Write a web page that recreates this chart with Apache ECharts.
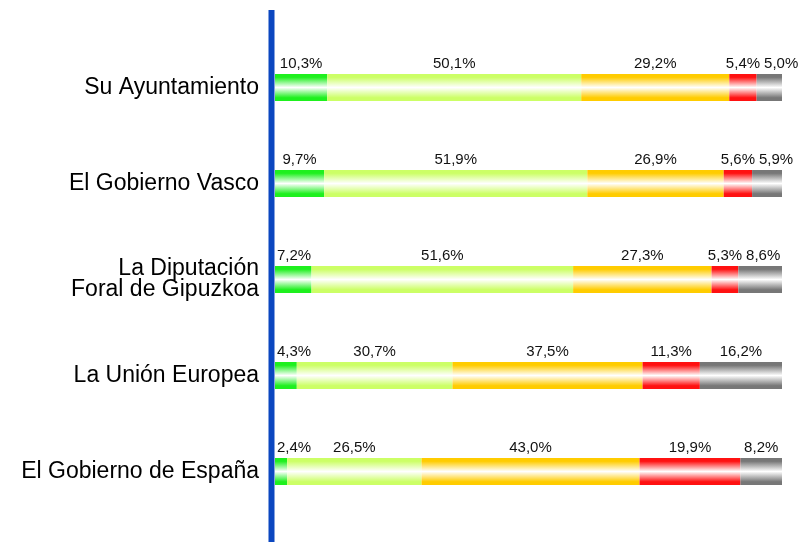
<!DOCTYPE html>
<html>
<head>
<meta charset="utf-8">
<script src="https://cdn.jsdelivr.net/npm/echarts@6/dist/echarts.min.js"></script>
<style>
  html, body { margin: 0; padding: 0; background: #fff; }
  #chart { width: 800px; height: 542px; }
</style>
</head>
<body>
<div id="chart"></div>
<script>
var categories = ['Su Ayuntamiento', 'El Gobierno Vasco', 'La Diputación\nForal de Gipuzkoa', 'La Unión Europea', 'El Gobierno de España'];
var seriesNames = ['Mucha', 'Bastante', 'Poca', 'Ninguna', 'Ns/Nc'];
var mucha    = [10.3, 9.7, 7.2, 4.3, 2.4];
var bastante = [50.1, 51.9, 51.6, 30.7, 26.5];
var poca     = [29.2, 26.9, 27.3, 37.5, 43.0];
var ninguna  = [5.4, 5.6, 5.3, 11.3, 19.9];
var nsnc     = [5.0, 5.9, 8.6, 16.2, 8.2];
var seriesData = [mucha, bastante, poca, ninguna, nsnc];
var colors = ['#1ef01e', '#ccff66', '#ffcc00', '#ff1111', '#777777'];

var gridLeft = 275, gridRight = 18, chartWidth = 800;
var pxPerUnit = (chartWidth - gridLeft - gridRight) / 100;
var labelFont = '15px "Liberation Sans", Arial, sans-serif';

function fmt(v) {
    return v.toFixed(1).replace('.', ',') + '%';
}

// keep value labels of a row from overlapping each other
var ctx = document.createElement('canvas').getContext('2d');
ctx.font = labelFont;
var shifts = seriesData.map(function () { return []; });
categories.forEach(function (c, row) {
    var cum = 0, items = [];
    seriesData.forEach(function (arr, s) {
        var v = arr[row];
        var center = gridLeft + (cum + v / 2) * pxPerUnit;
        var w = ctx.measureText(fmt(v)).width;
        items.push({s: s, center: center, w: w, left: center - w / 2});
        cum += v;
    });
    var gap = 4, prevRight = gridLeft + 2;
    items.forEach(function (item) {
        if (item.left < prevRight) item.left = prevRight;
        prevRight = item.left + item.w + gap;
    });
    var maxRight = chartWidth - 1;
    for (var i = items.length - 1; i >= 0; i--) {
        var item = items[i];
        if (item.left + item.w > maxRight) item.left = maxRight - item.w;
        maxRight = item.left - gap;
    }
    items.forEach(function (item) {
        shifts[item.s][row] = item.left + item.w / 2 - item.center;
    });
});

var myChart = echarts.init(document.getElementById('chart'));
var option = {
    animation: false,
    grid: {left: gridLeft, right: gridRight, top: 39.5, bottom: 22.5},
    xAxis: {
        type: 'value', min: 0, max: 100,
        show: false
    },
    yAxis: {
        type: 'category',
        data: categories,
        inverse: true,
        axisLine: {show: false},
        axisTick: {show: false},
        axisLabel: {
            margin: 16,
            fontSize: 23,
            lineHeight: 21,
            color: '#000',
            fontFamily: '"Liberation Sans", Arial, sans-serif'
        }
    },
    graphic: [{
        type: 'rect',
        shape: {x: 268.5, y: 10, width: 6, height: 532},
        style: {fill: '#0b47c0'}
    }],
    series: seriesData.map(function (arr, s) {
        var c = colors[s];
        return {
            name: seriesNames[s],
            type: 'bar',
            stack: 'total',
            barWidth: 27,
            data: arr,
            itemStyle: {
                color: new echarts.graphic.LinearGradient(0, 0, 0, 1, [
                    {offset: 0, color: c},
                    {offset: 0.12, color: c},
                    {offset: 0.5, color: '#ffffff'},
                    {offset: 0.88, color: c},
                    {offset: 1, color: c}
                ])
            },
            label: {
                show: true,
                position: 'top',
                distance: 3,
                color: '#111',
                fontSize: 15,
                fontFamily: '"Liberation Sans", Arial, sans-serif',
                formatter: function (p) { return fmt(p.value); }
            },
            labelLayout: function (p) {
                return {dx: shifts[p.seriesIndex][p.dataIndex] || 0};
            }
        };
    })
};
option && myChart.setOption(option);
</script>
</body>
</html>
